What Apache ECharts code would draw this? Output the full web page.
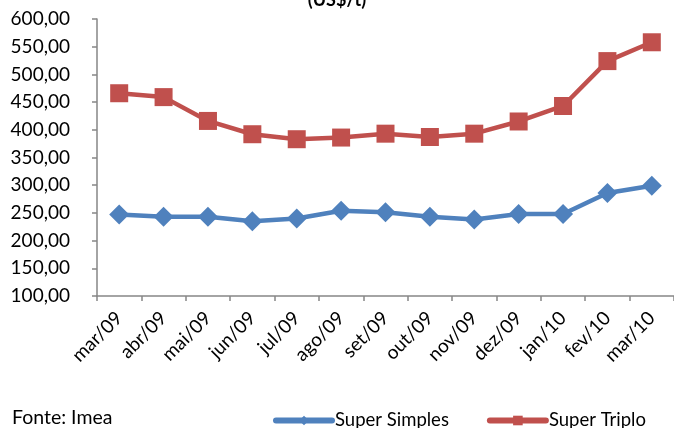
<!DOCTYPE html>
<html>
<head>
<meta charset="utf-8">
<script src="https://cdn.jsdelivr.net/npm/echarts@6/dist/echarts.min.js"></script>
<style>html,body{margin:0;padding:0;background:#fff}#c{width:674px;height:428px}</style>
</head>
<body>
<div id="c"></div>
<script>
const categories = ['mar/09','abr/09','mai/09','jun/09','jul/09','ago/09','set/09','out/09','nov/09','dez/09','jan/10','fev/10','mar/10'];
const superSimples = [247, 243, 243, 235, 240, 254, 251, 243, 238, 248, 248, 286, 299];
const superTriplo = [466, 459, 416, 392, 383, 386, 393, 387, 393, 415, 443, 524, 558];
const yMin = 100, yMax = 600, yStep = 50;
const titleText = '(US$/t)';
const sourceText = 'Fonte: Imea';

const FONT = 'Lato';
const chart = echarts.init(document.getElementById('c'), null, {renderer: 'canvas'});
chart.setOption({
  animation: false,
  backgroundColor: '#ffffff',
  textStyle: {fontFamily: FONT},
  title: {
    text: titleText, left: 'center', top: -14,
    textStyle: {fontFamily: FONT, fontSize: 18, fontWeight: 'bold', color: '#000'}
  },
  grid: {left: 97, top: 19, width: 580, height: 277, containLabel: false},
  legend: {
    left: 268, top: 406, itemWidth: 56, itemHeight: 12, itemGap: 38,
    lineStyle: {width: 6, cap: 'round'},
    textStyle: {fontFamily: FONT, fontSize: 18.5, color: '#000', padding: [0,0,0,-2]},
    data: ['Super Simples', 'Super Triplo']
  },
  graphic: [{
    type: 'text', left: 12, top: 408,
    style: {text: sourceText, font: '19.5px ' + FONT, fill: '#000'}
  }],
  xAxis: {
    type: 'category', data: categories, boundaryGap: true,
    axisLine: {lineStyle: {color: '#868686', width: 1.5}},
    axisTick: {show: true, length: 5, lineStyle: {color: '#868686', width: 1.5}},
    axisLabel: {rotate: 45, margin: 19, fontSize: 19, color: '#000', fontFamily: FONT, interval: 0}
  },
  yAxis: {
    type: 'value', min: yMin, max: yMax, interval: yStep,
    splitLine: {show: false},
    axisLine: {show: true, lineStyle: {color: '#868686', width: 1.5}},
    axisTick: {show: true, length: 5, lineStyle: {color: '#868686', width: 1.5}},
    axisLabel: {margin: 27, fontSize: 19, color: '#000', fontFamily: FONT,
      formatter: v => v.toFixed(2).replace('.', ',')}
  },
  series: [
    {name: 'Super Simples', type: 'line', data: superSimples, symbol: 'diamond', symbolSize: 20,
     itemStyle: {color: '#4F81BD'}, lineStyle: {color: '#4F81BD', width: 4.5}},
    {name: 'Super Triplo', type: 'line', data: superTriplo, symbol: 'rect', symbolSize: 18,
     itemStyle: {color: '#C0504D'}, lineStyle: {color: '#C0504D', width: 4.5}}
  ]
});
</script>
</body>
</html>
